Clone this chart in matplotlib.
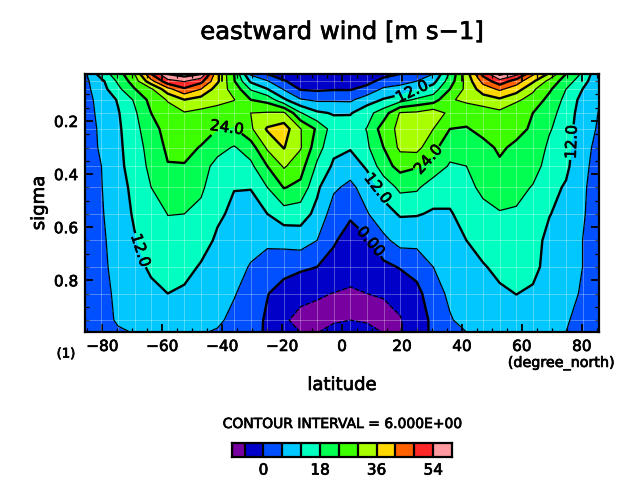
import numpy as np
import matplotlib
matplotlib.use('Agg')
import matplotlib.pyplot as plt
import matplotlib.patheffects as pe
from matplotlib.colors import ListedColormap, BoundaryNorm
from matplotlib.text import Text

lat_n = [2.77, 8.31, 13.85, 19.39, 24.93, 30.47, 36.01, 41.53, 47.07, 52.61, 58.15, 63.69, 69.23, 74.76, 80.27, 85.76]
lat = [-v for v in lat_n[::-1]] + lat_n
sigma = [0.023, 0.05, 0.08, 0.12, 0.17, 0.23, 0.30, 0.37, 0.45, 0.55, 0.65, 0.75, 0.85, 0.95, 0.995]

# eastward wind, one list per sigma level
u_023 = [5, 15, 21, 30, 48, 60, 63, 60, 37, 24, 5, 0, -3, -4, -4, -4.5, -4, -3, -2, 0, 2, 6, 19, 33, 50, 61, 56, 43, 35, 24, 17, 7]
u_050 = [4.5, 10.5, 19, 27, 40, 52, 54.5, 50, 37, 24.5, 11, 6.5, 0.5, -2.5, -3, -3.5, -3, -2, 2, 4, 6, 10, 21, 32, 44, 52, 45, 37, 28, 21, 14.5, 7]
u_080 = [4.2, 9.5, 16.5, 23.7, 29, 40, 47, 42, 33, 28, 17.5, 12.2, 5.5, -0.5, -1, -0.5, -0.5, 2, 7, 8, 11, 15, 24, 31.5, 39, 43, 39, 31, 25, 18, 12, 7]
u_120 = [4, 8, 12.5, 18.7, 26, 30.5, 36, 33.5, 31.5, 30.2, 24, 22, 13, 6.5, 5, 5.2, 5, 9, 12.5, 15.5, 19, 21, 29.5, 31, 33, 35, 31, 28, 22, 16.5, 10, 6.2]
u_170 = [3.8, 7.5, 11.5, 17, 24, 27.5, 29.5, 28.5, 28, 27, 30, 30.5, 31, 18.5, 13, 11.5, 11.5, 16, 21, 30.5, 31, 33.5, 28.5, 27, 27, 28.5, 26, 24, 20, 15.5, 9, 5.8]
u_230 = [3.5, 7, 11, 16, 22, 26, 27, 25.5, 24, 23.5, 29, 36.7, 39, 30.3, 23, 15, 15.5, 18.2, 27, 31.5, 33, 30, 24, 23.5, 26, 25.5, 26, 23, 18.5, 15, 8, 5.5]
u_300 = [3.3, 6.8, 10.8, 15, 20.5, 25, 25, 23.8, 20, 17.5, 21, 31, 36.3, 30.5, 20.5, 13.5, 12.5, 17, 24, 31.2, 32, 25.5, 20.5, 20.5, 22, 25, 22.7, 22, 16.8, 14.2, 7.2, 5]
u_370 = [3, 6, 10.5, 14.5, 19.5, 23.7, 23.8, 20.5, 16, 14, 16.6, 24, 30.7, 26.5, 17, 11, 9, 12.8, 21.5, 26, 24.5, 22, 17.3, 18, 20.5, 23, 21.5, 21, 15, 13.4, 6.8, 4.8]
u_450 = [3, 5.8, 10, 13.3, 18, 20.5, 21.5, 19, 14.5, 12.2, 12.2, 18, 24.3, 22.5, 13, 7, 4.5, 8.8, 14, 19.5, 19, 14.5, 14.5, 16.5, 19.2, 21.5, 20.5, 17.5, 14, 11.3, 6.5, 4.5]
u_550 = [2.5, 5.5, 9, 12.7, 15.5, 18.1, 18, 16.5, 13, 10.8, 10, 12, 15.2, 14.5, 10.5, 3, 1, 5.5, 10, 12.5, 12.4, 11.4, 11.4, 14.5, 16.4, 17.5, 17, 15, 12.2, 10.2, 6.4, 4]
u_650 = [2.5, 5.2, 8, 11.6, 14, 16.5, 16.5, 14.5, 11, 9, 7.4, 6.9, 7.7, 8.9, 6, 0.8, -3, -1, 4.5, 8.2, 7.6, 7.5, 9.5, 12, 14.5, 15, 16.5, 14, 10.5, 9, 6, 4]
u_750 = [2.5, 5, 7.5, 10, 13, 15, 14, 11.4, 9.5, 7.5, 5.7, 4, 2.5, 1, 0, -2.5, -4.5, -3, -1.5, 0.4, 2.5, 6, 8.5, 11, 11.5, 13.5, 15.5, 13.5, 10, 8.5, 6, 3.5]
u_850 = [2.5, 4.5, 7, 9, 10.5, 12, 11, 9.5, 7.8, 6.4, 3.5, 0.3, -3, -4.5, -5.5, -6.1, -6.5, -6, -5.7, -4.5, -2, 4, 6.9, 9, 10, 11, 12.1, 11.2, 9.5, 7.5, 5.5, 3]
u_950 = [2.5, 4.5, 6.5, 8, 9, 10, 9.5, 8, 7, 4.5, 3, -1, -5.3, -7.5, -7.5, -6.6, -6, -6.5, -7.2, -6.3, -3.5, 1.5, 5.6, 7.5, 8.5, 9, 9.5, 9, 8, 6.6, 4, 2]
u_995 = [2.5, 4, 5.5, 6.2, 6.3, 6.3, 6.2, 6.4, 5.5, 3.5, 2.5, -1, -3.5, -6.1, -6.2, -4.5, -3.5, -4.5, -6.2, -6.2, -2.5, 1, 4, 6, 6.3, 6.3, 6.3, 6.3, 6.3, 6, 4, 2]

levels = [-12, -6, 0, 6, 12, 18, 24, 30, 36, 42, 48, 54, 60]
colors = ['#7800a0', '#0000c8', '#0050ff', '#00c8ff', '#00ffc0', '#00ff50',
          '#3cff00', '#a8ff00', '#ffd800', '#ff6000', '#ff2828', '#ff9aa0']
bar_edges = [-10, -6, 0, 6, 12, 18, 24, 30, 36, 42, 48, 54, 60]
xticks = [-80, -60, -40, -20, 0, 20, 40, 60, 80]
yticks = [0.2, 0.4, 0.6, 0.8]

u = np.array([u_023, u_050, u_080, u_120, u_170, u_230, u_300, u_370,
              u_450, u_550, u_650, u_750, u_850, u_950, u_995])

W, H = 642, 495
plt.rcParams['font.family'] = 'DejaVu Sans'
fig = plt.figure(figsize=(W / 100, H / 100), dpi=100)
ax = fig.add_axes([85 / W, 1 - 332 / H, 514 / W, 258 / H])

cmap = ListedColormap(colors)
cmap.set_over('white')
norm = BoundaryNorm(levels, cmap.N)
ax.contourf(lat, sigma, u, levels=levels, cmap=cmap, norm=norm, extend='max')

# faint lines on the data grid
for v in lat:
    ax.axvline(v, color='white', lw=0.7, alpha=0.3)
for v in sigma:
    ax.axhline(v, color='white', lw=0.7, alpha=0.3)

ax.contour(lat, sigma, u, levels=[6, 18, 30, 42, 54], colors='k', linewidths=0.9)
ax.contour(lat, sigma, u, levels=[-6], colors='k', linewidths=0.9, linestyles='--')
ax.contour(lat, sigma, u, levels=[36, 48, 60], colors='k', linewidths=1.7)

# labelled contours, one set per level. clabel gets the angle wrong on the
# flipped y axis so the angles are set by hand
label_spots = {12: ('%.1f', [(-67.3, 0.687), (23.2, 0.083), (77, 0.28), (12, 0.453)], [-72, 25, 88, -52]),
               24: ('%.1f', [(-38.4, 0.23), (28.4, 0.34)], [-8, 48]),
               0: ('%.2f', [(8.8, 0.66)], [-50])}
for lev, (fmt, spots, angles) in label_spots.items():
    cs = ax.contour(lat, sigma, u, levels=[lev], colors='k', linewidths=1.7)
    labels = ax.clabel(cs, fmt=fmt, fontsize=11, inline=True, inline_spacing=1, manual=spots)
    for t, a in zip(labels, angles):
        t.set_rotation(a)

ax.set_xlim(-85.76, 85.76)
ax.set_ylim(0.995, 0.023)
ax.set_xticks(xticks)
ax.set_yticks(yticks)
ax.set_yticklabels(['%.1f' % v for v in yticks])
ax.set_xticks(np.arange(-85, 86, 5), minor=True)
ax.set_yticks(np.arange(0.05, 1.0, 0.05), minor=True)
ax.tick_params(which='major', direction='in', length=5.5, width=1.3, top=True, right=True, labelsize=11)
ax.tick_params(which='minor', direction='in', length=2.8, width=0.9, top=True, right=True)
ax.tick_params(axis='x', which='major', pad=5)
ax.tick_params(axis='y', which='major', pad=5)
for s in ax.spines.values():
    s.set_linewidth(1.6)

fig.text(342 / W, 1 - 32 / H, 'eastward wind [m s\u22121]', ha='center', va='center', fontsize=17.5)
fig.text(342 / W, 1 - 385 / H, 'latitude', ha='center', va='center', fontsize=13)
fig.text(39 / W, 1 - 203 / H, 'sigma', ha='center', va='center', rotation=90, fontsize=13)
fig.text(66 / W, 1 - 354 / H, '(1)', ha='center', va='center', fontsize=9.5)
fig.text(561 / W, 1 - 363 / H, '(degree_north)', ha='center', va='center', fontsize=10.3)
fig.text(342 / W, 1 - 424 / H, 'CONTOUR INTERVAL = 6.000E+00', ha='center', va='center', fontsize=10)

# colour bar
cax = fig.add_axes([232 / W, 1 - 457 / H, 220 / W, 14 / H])
for i, c in enumerate(colors):
    cax.axvspan(bar_edges[i], bar_edges[i + 1], color=c, lw=0)
    cax.axvline(bar_edges[i], color='k', lw=1.6)
cax.set_xlim(bar_edges[0], bar_edges[-1])
cax.set_ylim(0, 1)
cax.set_yticks([])
cax.set_xticks([0, 18, 36, 54])
cax.tick_params(length=0, labelsize=11, pad=4)
for s in cax.spines.values():
    s.set_linewidth(1.6)

# the reference text is a heavy stroke font
for t in fig.findobj(Text):
    t.set_path_effects([pe.withStroke(linewidth=0.5, foreground='k')])

fig.savefig('out.png', dpi=100)
